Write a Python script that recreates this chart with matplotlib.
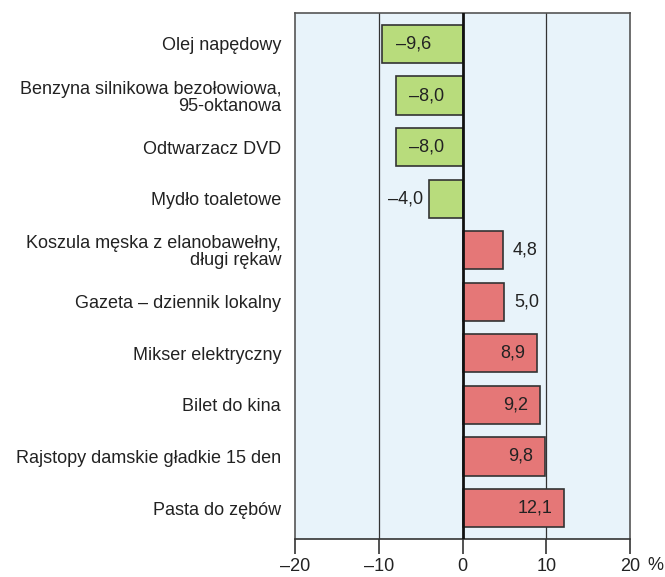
import matplotlib
matplotlib.use("Agg")
import matplotlib.pyplot as plt

categories = [
    "Olej napędowy",
    "Benzyna silnikowa bezołowiowa,\n95-oktanowa",
    "Odtwarzacz DVD",
    "Mydło toaletowe",
    "Koszula męska z elanobawełny,\ndługi rękaw",
    "Gazeta – dziennik lokalny",
    "Mikser elektryczny",
    "Bilet do kina",
    "Rajstopy damskie gładkie 15 den",
    "Pasta do zębów",
]
values = [-9.6, -8.0, -8.0, -4.0, 4.8, 5.0, 8.9, 9.2, 9.8, 12.1]
xticks = [-20, -10, 0, 10, 20]
xtick_labels = ["–20", "–10", "0", "10", "20"]

plt.rcParams['font.family'] = ['Liberation Sans', 'DejaVu Sans']
FS = 13

fig = plt.figure(figsize=(6.65, 5.77), dpi=100)
ax = fig.add_axes([295/665, 1-539/577, (630-295)/665, (539-13)/577])
ax.set_facecolor("#e8f3fa")

green = "#b8dc7c"
red = "#e57777"
edge = "#333333"
y = list(range(len(categories)))
colors = [green if v < 0 else red for v in values]
ax.barh(y, values, height=0.74, color=colors, edgecolor=edge, linewidth=1.2, zorder=3)

ax.set_ylim(len(categories) - 0.4, -0.6)
ax.set_xlim(-20, 20)

for xv in (-10, 10):
    ax.axvline(xv, color="#333333", linewidth=0.9, zorder=1)
ax.axvline(0, color="#111111", linewidth=2.0, zorder=4)

for yi, v in zip(y, values):
    txt = f"{abs(v):.1f}".replace(".", ",")
    if v < 0:
        txt = "–" + txt
    if abs(v) >= 8:
        if v < 0:
            ax.text(v + 1.6, yi, txt, ha="left", va="center", fontsize=FS, color="#222222", zorder=5)
        else:
            ax.text(v - 1.4, yi, txt, ha="right", va="center", fontsize=FS, color="#222222", zorder=5)
    else:
        if v < 0:
            ax.text(v - 0.7, yi, txt, ha="right", va="center", fontsize=FS, color="#222222", zorder=5)
        else:
            ax.text(v + 1.2, yi, txt, ha="left", va="center", fontsize=FS, color="#222222", zorder=5)

ax.set_yticks(y)
ax.set_yticklabels(categories, fontsize=FS, color="#222222", linespacing=1.0)
ax.tick_params(axis="y", length=0, pad=10)

ax.set_xticks(xticks)
ax.set_xticklabels(xtick_labels, fontsize=FS, color="#222222")
ax.tick_params(axis="x", direction="out", length=11, width=1.2, color="#333333", pad=3)

for s in ax.spines.values():
    s.set_color("#555555")
    s.set_linewidth(1.2)
ax.spines["bottom"].set_color("#333333")

ax.text(1.052, -0.034, "%", transform=ax.transAxes, fontsize=FS, color="#222222",
        ha="left", va="top")

fig.savefig("out.png", dpi=100)
